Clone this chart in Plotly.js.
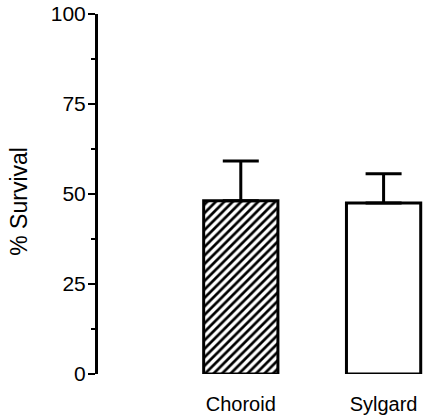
<!DOCTYPE html>
<html>
<head>
<meta charset="utf-8">
<script src="https://cdn.plot.ly/plotly-3.0.1.min.js"></script>
<style>
  html, body { margin: 0; padding: 0; background: #fff; }
  #chart { width: 425px; height: 417px; }
</style>
</head>
<body>
<div id="chart"></div>
<script>
// Survival by implant material
const categories = ['Choroid', 'Sylgard'];
const survival = [48.1, 47.5];
const errorUp = [11.1, 8.1];
const yTickValues = [0, 25, 50, 75, 100];
const yTickLabels = ['0', '25', '50', '75', '100'];

const fontFamily = 'Liberation Sans, Arial, Helvetica, sans-serif';

// one trace per bar so each gets its own fill
const fills = [
  { shape: '/', size: 6, solidity: 0.45, fgcolor: '#000000', fgopacity: 1, bgcolor: '#ffffff', fillmode: 'replace' },
  { shape: '', fgcolor: '#000000', bgcolor: '#ffffff' }
];

const traces = categories.map((cat, i) => ({
  type: 'bar',
  x: [cat],
  y: [survival[i]],
  width: 0.52,
  marker: {
    color: '#ffffff',
    pattern: fills[i],
    line: { color: '#000000', width: 3 }
  },
  error_y: {
    type: 'data',
    symmetric: false,
    array: [errorUp[i]],
    arrayminus: [0],
    color: '#000000',
    thickness: 3,
    width: 18
  },
  hoverinfo: 'skip'
}));

const layout = {
  width: 425,
  height: 417,
  margin: { l: 98, r: 0, t: 14, b: 43 },
  paper_bgcolor: '#ffffff',
  plot_bgcolor: '#ffffff',
  showlegend: false,
  barmode: 'overlay',
  font: { family: fontFamily, color: '#000000' },
  xaxis: {
    type: 'category',
    categoryarray: categories,
    range: [-1, 1.29],
    showline: false,
    showgrid: false,
    zeroline: false,
    ticks: '',
    tickfont: { size: 20, family: fontFamily, color: '#000000' },
    ticklabelstandoff: 16
  },
  yaxis: {
    range: [0, 100],
    tickvals: yTickValues,
    ticktext: yTickLabels,
    showline: true,
    linecolor: '#000000',
    linewidth: 3,
    showgrid: false,
    zeroline: false,
    ticks: 'outside',
    ticklen: 7,
    tickwidth: 2,
    tickcolor: '#000000',
    tickfont: { size: 21, family: fontFamily, color: '#000000' },
    ticklabelstandoff: -2,
    minor: {
      dtick: 12.5,
      tick0: 0,
      ticks: 'outside',
      ticklen: 4,
      tickwidth: 2,
      tickcolor: '#000000'
    }
  },
  annotations: [{
    text: '% Survival',
    textangle: -90,
    xref: 'paper',
    yref: 'y',
    x: -0.24,
    y: 48,
    xanchor: 'center',
    yanchor: 'middle',
    showarrow: false,
    font: { size: 23, family: fontFamily, color: '#000000' }
  }]
};

Plotly.newPlot('chart', traces, layout, { displayModeBar: false, staticPlot: true });
</script>
</body>
</html>
